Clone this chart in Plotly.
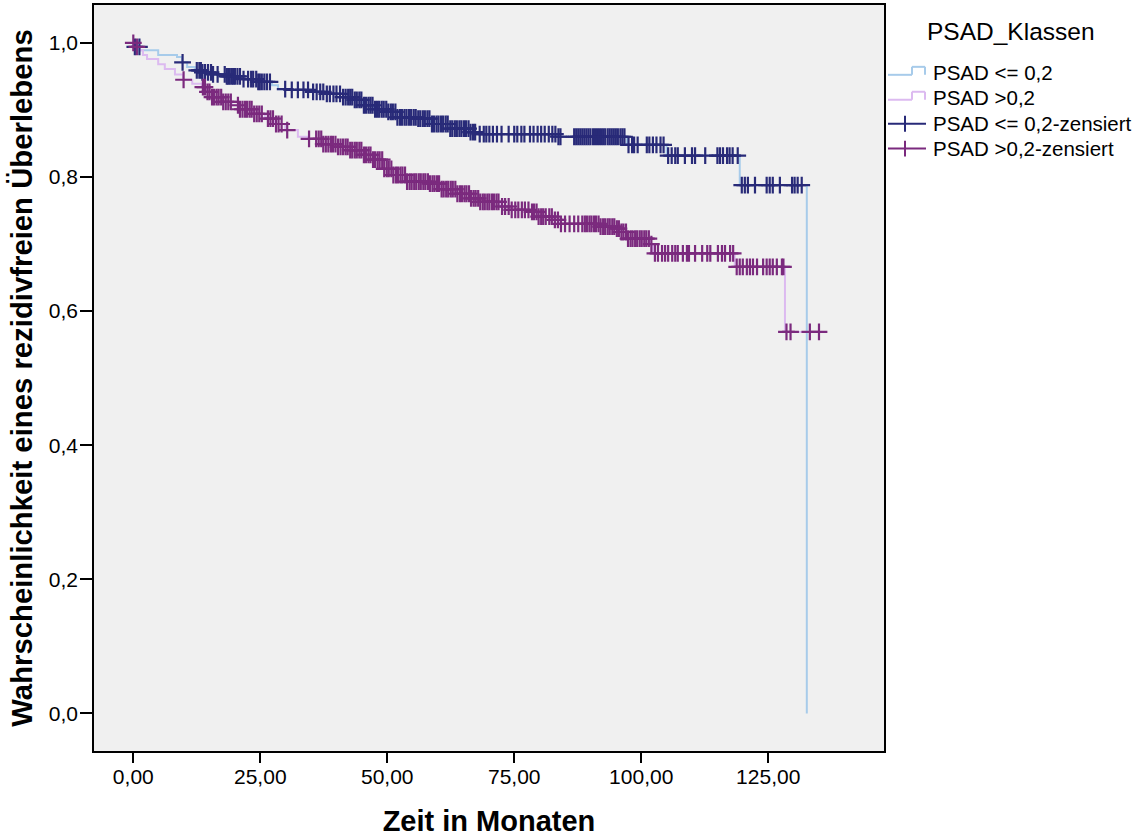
import numpy as np
import plotly.graph_objects as go

# ---------------- data ----------------
series_names = ["PSAD <= 0,2", "PSAD >0,2"]
censor_names = ["PSAD <= 0,2-zensiert", "PSAD >0,2-zensiert"]
legend_title = "PSAD_Klassen"

# Group 1: PSAD <= 0,2  (event times in months, survival after the event)
g1_event_t = [0.0, 0.1, 1.3, 4.9, 8.6, 9.6, 10.6, 12.1, 13.5, 15.5, 18.1, 21.4, 24.5, 27.3,
              28.5, 31.2, 35.2, 37.8, 41.3, 43.2, 45.2, 47.2, 50.0, 51.9, 55.8, 58.4,
              62.3, 66.3, 67.6, 83.4, 97.2, 105.0, 119.4, 132.6]
g1_surv = [1.0, 0.994, 0.989, 0.982, 0.979, 0.971, 0.964, 0.959, 0.956, 0.953, 0.950, 0.946,
           0.942, 0.937, 0.931, 0.930, 0.927, 0.924, 0.919, 0.915, 0.907, 0.901, 0.897,
           0.889, 0.887, 0.879, 0.872, 0.867, 0.864, 0.860, 0.848, 0.832, 0.788, 0.0]
g1_cens_t = [0.3, 1.2, 9.7, 12.5, 13.0, 13.3, 13.6, 14.1, 14.7, 15.3, 15.7, 16.6, 18.0, 18.4,
             18.7, 19.0, 19.4, 19.7, 20.0, 20.5, 21.0, 21.7, 22.6, 23.2, 23.6, 24.2, 24.6,
             24.9, 25.3, 25.8, 26.3, 26.9, 29.9, 31.2, 32.4, 33.5, 34.4, 35.4, 36.1, 36.8,
             37.4, 38.1, 38.7, 39.4, 40.0, 40.7, 41.3, 41.8, 42.3, 42.7, 43.1, 43.6, 44.0,
             44.5, 44.9, 45.4, 45.8, 46.3, 46.7, 47.1, 47.6, 48.0, 48.4, 48.9, 49.3, 49.8,
             50.2, 50.7, 51.1, 51.6, 52.0, 52.5, 52.9, 53.4, 53.8, 54.3, 54.7, 55.2, 55.6,
             56.1, 56.5, 57.0, 57.4, 57.9, 58.3, 58.8, 59.2, 59.7, 60.1, 60.6, 61.0, 61.5,
             61.9, 62.4, 62.8, 63.3, 63.7, 64.2, 64.6, 65.1, 65.5, 66.0, 66.4, 66.9, 67.3,
             68.2, 69.0, 69.5, 70.1, 70.8, 71.6, 72.5, 73.9, 75.0, 75.6, 76.4, 77.0, 78.1,
             78.8, 79.6, 80.3, 81.0, 81.8, 82.5, 83.1, 83.7, 84.1, 86.8, 87.2, 87.6, 88.0,
             88.4, 88.8, 89.2, 89.6, 90.0, 90.5, 90.9, 91.3, 91.7, 92.1, 92.5, 92.9, 93.4,
             93.8, 94.2, 94.6, 95.0, 95.4, 95.9, 96.3, 96.7, 97.5, 98.2, 98.6, 99.3, 101.1,
             101.6, 102.3, 103.0, 103.8, 104.4, 105.3, 106.0, 106.7, 107.2, 108.6, 110.0,
             110.6, 112.6, 115.0, 115.5, 116.1, 116.9, 117.4, 118.0, 119.0, 119.8, 120.4,
             121.0, 122.4, 124.7, 125.3, 125.9, 127.3, 129.7, 130.2, 130.8, 131.6]

# Group 2: PSAD >0,2
g2_event_t = [0.0, 0.1, 1.3, 1.9, 2.7, 4.9, 6.2, 8.2, 9.8, 11.6, 13.5, 14.5, 15.5, 17.5, 19.4,
              21.0, 23.4, 25.9, 27.9, 29.9, 32.4, 34.4, 37.1, 40.3, 42.7, 45.2, 47.2, 49.2,
              51.1, 53.9, 58.4, 60.4, 63.7, 66.3, 68.3, 72.2, 74.2, 78.1, 79.5, 82.6, 84.0,
              91.9, 95.2, 95.8, 97.2, 101.7, 102.3, 118.4, 128.3]
g2_surv = [1.0, 0.994, 0.989, 0.982, 0.976, 0.968, 0.961, 0.953, 0.945, 0.939, 0.934, 0.927,
           0.919, 0.912, 0.907, 0.901, 0.894, 0.887, 0.879, 0.870, 0.860, 0.857, 0.849,
           0.845, 0.840, 0.833, 0.826, 0.812, 0.803, 0.793, 0.790, 0.782, 0.775, 0.768,
           0.763, 0.756, 0.751, 0.748, 0.741, 0.736, 0.730, 0.726, 0.723, 0.718, 0.708,
           0.700, 0.686, 0.666, 0.569]
g2_cens_t = [0.0, 0.7, 9.9, 13.7, 14.1, 14.6, 15.0, 15.5, 15.9, 16.4, 16.8, 17.3, 17.7, 18.2,
             18.7, 19.2, 20.6, 21.0, 21.5, 22.0, 22.4, 22.9, 23.3, 23.8, 24.3, 24.8, 25.3,
             26.5, 27.0, 27.5, 28.1, 28.6, 29.2, 30.3, 34.6, 36.0, 36.5, 37.0, 37.4, 37.9,
             38.4, 38.9, 39.3, 39.8, 40.3, 40.8, 41.3, 41.8, 42.2, 42.7, 43.1, 43.6, 44.0,
             44.5, 44.9, 45.4, 45.8, 46.3, 46.7, 47.2, 47.6, 48.1, 48.5, 49.0, 49.4, 49.9,
             50.3, 50.8, 51.2, 51.7, 52.1, 52.6, 53.0, 53.5, 53.9, 54.4, 54.8, 55.3, 55.7,
             56.2, 56.6, 57.1, 57.5, 58.0, 58.4, 58.9, 59.3, 59.8, 60.2, 60.7, 61.1, 61.6,
             62.0, 62.5, 62.9, 63.4, 63.8, 64.3, 64.7, 65.2, 65.6, 66.1, 66.5, 67.0, 67.4,
             67.9, 68.3, 68.8, 69.2, 69.7, 70.1, 70.6, 71.0, 71.5, 71.9, 72.6, 73.2, 73.9,
             74.5, 75.2, 75.8, 76.5, 77.1, 77.8, 78.5, 78.9, 79.4, 79.8, 80.3, 80.7, 81.2,
             81.9, 82.4, 83.0, 83.6, 84.2, 85.0, 85.9, 86.8, 87.6, 88.4, 88.9, 89.3, 89.8,
             90.2, 90.7, 91.1, 91.6, 92.0, 92.5, 92.9, 93.4, 93.8, 94.3, 94.7, 95.2, 95.6,
             96.1, 96.5, 97.0, 97.4, 97.9, 98.3, 98.8, 99.2, 99.7, 100.1, 100.6, 101.0, 101.5,
             102.0, 102.7, 103.3, 104.1, 104.7, 105.3, 106.1, 106.7, 107.2, 108.2, 109.0,
             109.4, 110.6, 112.0, 113.0, 113.6, 115.1, 115.9, 116.5, 117.5, 118.1, 118.8,
             119.4, 120.0, 120.8, 121.4, 122.0, 122.8, 124.0, 124.7, 125.3, 125.9, 126.7,
             127.7, 128.0, 128.6, 129.4, 133.2, 135.0]

x_tickvals = [0, 25, 50, 75, 100, 125]
y_tickvals = [0.0, 0.2, 0.4, 0.6, 0.8, 1.0]

# ---------------- styles / layout ----------------
line_colors = ["#a7cbea", "#dcbaf0"]
cens_colors = ["#282a78", "#7b2a7e"]
FONT = "Liberation Sans, Arial, sans-serif"
W, H = 1136, 838
ML, MR, MT, MB = 94, 252, 3, 87
PW, PH = W - ML - MR, H - MT - MB


def px(x):  # pixel -> paper x
    return (x - ML) / PW


def py(y):  # pixel -> paper y
    return 1 - (y - MT) / PH


def step_value(times, surv, t):
    idx = np.searchsorted(np.asarray(times), np.asarray(t), side="right") - 1
    return np.asarray(surv)[idx]


def line_path(times, surv, cens):
    xs = list(times)
    ys = list(surv)
    if max(cens) > xs[-1]:
        xs.append(max(cens))
        ys.append(ys[-1])
    return xs, ys


groups = [(g1_event_t, g1_surv, g1_cens_t), (g2_event_t, g2_surv, g2_cens_t)]

fig = go.Figure()
for i, (et, sv, ct) in enumerate(groups):
    xs, ys = line_path(et, sv, ct)
    fig.add_trace(go.Scatter(x=xs, y=ys, mode="lines", line_shape="hv",
                             line=dict(color=line_colors[i], width=2),
                             name=series_names[i], showlegend=False))
for i, (et, sv, ct) in enumerate(groups):
    fig.add_trace(go.Scatter(x=ct, y=step_value(et, sv, ct), mode="markers",
                             marker=dict(symbol="cross-thin", size=12,
                                         line=dict(color=cens_colors[i], width=2.2),
                                         color=cens_colors[i]),
                             name=censor_names[i], showlegend=False))

# ---- legend drawn as shapes + text annotations (SPSS style) ----
shapes = []
annotations = []
row_y = [71, 96, 122, 147]
labels = series_names + censor_names
for r, yc in enumerate(row_y):
    if r < 2:
        col = line_colors[r]
        pts = [(888, yc + 2), (912, yc + 2), (912, yc - 6), (925, yc - 6), (925, yc + 2)]
        for (x0, y0), (x1, y1) in zip(pts[:-1], pts[1:]):
            shapes.append(dict(type="line", xref="paper", yref="paper",
                               x0=px(x0), y0=py(y0), x1=px(x1), y1=py(y1),
                               line=dict(color=col, width=2)))
    else:
        col = cens_colors[r - 2]
        shapes.append(dict(type="line", xref="paper", yref="paper",
                           x0=px(888), y0=py(yc), x1=px(926), y1=py(yc),
                           line=dict(color=col, width=2)))
        shapes.append(dict(type="line", xref="paper", yref="paper",
                           x0=px(905), y0=py(yc - 8), x1=px(905), y1=py(yc + 8),
                           line=dict(color=col, width=2)))
    annotations.append(dict(text=labels[r], xref="paper", yref="paper",
                            x=px(931), y=py(yc), xanchor="left", yanchor="middle",
                            showarrow=False, font=dict(size=20.5, family=FONT, color="black")))
annotations.append(dict(text=legend_title, xref="paper", yref="paper",
                        x=px(1011), y=py(30), xanchor="center", yanchor="middle",
                        showarrow=False, font=dict(size=24.5, family=FONT, color="black")))

fig.update_layout(
    width=W, height=H,
    margin=dict(l=ML, r=MR, t=MT, b=MB),
    paper_bgcolor="white", plot_bgcolor="#f0f0f0",
    separators=",.",
    font=dict(family=FONT, color="black", size=20),
    showlegend=False,
    shapes=shapes, annotations=annotations,
)
fig.update_xaxes(range=[-7.74, 147.8], tickvals=x_tickvals, tickformat=".2f",
                 showgrid=False, zeroline=False, showline=True, mirror=True,
                 linecolor="black", linewidth=1.5, ticks="outside", ticklen=10,
                 tickwidth=2, tickcolor="black", ticklabelstandoff=-4,
                 tickfont=dict(size=21, family=FONT),
                 title=dict(text="<b>Zeit in Monaten</b>", standoff=24,
                            font=dict(size=29, family=FONT)))
fig.update_yaxes(range=[-0.056, 1.0565], tickvals=y_tickvals, tickformat=".1f",
                 showgrid=False, zeroline=False, showline=True, mirror=True,
                 linecolor="black", linewidth=1.5, ticks="outside", ticklen=12,
                 tickwidth=2, tickcolor="black", ticklabelstandoff=-2,
                 tickfont=dict(size=21, family=FONT),
                 title=dict(text="<b>Wahrscheinlichkeit eines rezidivfreien Überlebens</b>",
                            standoff=8, font=dict(size=29.3, family=FONT)))

fig.write_html("out.html")
